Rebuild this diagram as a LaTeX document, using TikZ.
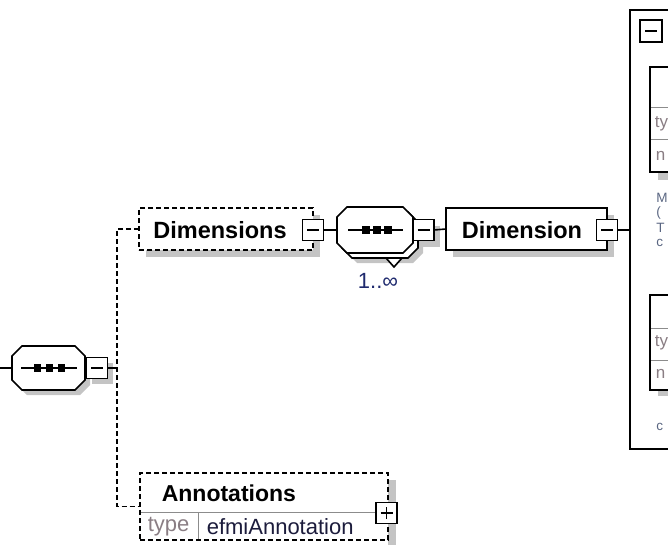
\documentclass[tikz,border=0pt]{standalone}
\usepackage{fontspec}
\setmainfont{Liberation Sans}
\definecolor{shad}{HTML}{C4C4C4}
\definecolor{lbl}{HTML}{8A7E84}
\definecolor{val}{HTML}{1C1C3C}
\definecolor{occ}{HTML}{1F2A6E}
\definecolor{doc}{HTML}{5A6682}
\definecolor{divc}{HTML}{8C8C8C}
\newcommand\octo[1]{([xshift=10pt]#1.north west) -- ([xshift=-10pt]#1.north east) -- ([yshift=-10pt]#1.north east) -- ([yshift=10pt]#1.south east) -- ([xshift=-10pt]#1.south east) -- ([xshift=10pt]#1.south west) -- ([yshift=10pt]#1.south west) -- ([yshift=-10pt]#1.north west) -- cycle}
\begin{document}
\begin{tikzpicture}[x=1pt,y=-1pt,line width=1.6pt,
  hold/.style={inner sep=0pt,outer sep=0pt},
  pmbox/.style={draw,fill=white,minimum size=21pt,inner sep=0pt,outer sep=0pt},
  shadowbox/.style={fill=shad,draw=none,inner sep=0pt,outer sep=0pt},
  elembox/.style={draw,fill=white,inner sep=0pt,outer sep=0pt,font=\fontsize{23}{27}\selectfont\bfseries},
  opt/.style={dash pattern=on 5pt off 3pt},
  txt/.style={inner sep=0pt,anchor=west},
  smallrow/.style={divc,line width=1pt},
  doctext/.style={txt,font=\fontsize{13.5}{14}\selectfont,text=doc},
  rowtext/.style={txt,font=\fontsize{17}{19}\selectfont,text=lbl},
]
\useasboundingbox (0,0) rectangle (668,545);
\clip (0,0) rectangle (668,545);

% ---------- left sequence compositor ----------
\node[hold,minimum width=73pt,minimum height=44pt] (seq1s) at (53.5,373) {};
\node[hold,minimum width=73pt,minimum height=44pt] (seq1) at (48.5,368) {};
\node[shadowbox,minimum size=21pt] (seq1pms) at (102,373) {};
\fill[shad] \octo{seq1s};
\draw[fill=white] \octo{seq1};
\node[pmbox] (seq1pm) at (97,368) {};
\draw ([xshift=-6pt]seq1pm.center) -- ([xshift=6pt]seq1pm.center);
\draw ([xshift=9pt]seq1.west) -- ([xshift=-8pt]seq1.east);
\foreach \d in {-11,1,13}{\fill ([xshift=\d pt]seq1.center) ++(-3.75,-3.75) rectangle ++(7.5,7.5);}
\coordinate (root) at (0,368);
\coordinate (spine) at (117,368);
\draw (root) -- (seq1.west);
\draw (seq1pm.east) -- (spine);

% ---------- Dimensions (optional) ----------
\node[shadowbox,minimum width=174pt,minimum height=42pt] (dimss) at (233,236) {};
\node[elembox,opt,minimum width=174pt,minimum height=42pt] (dims) at (226,229) {};
\node[inner sep=0pt,font=\fontsize{23.5}{27}\selectfont\bfseries] at (220,230) {Dimensions};
\node[pmbox] (dimspm) at (313,230) {};
\draw ([xshift=-6pt]dimspm.center) -- ([xshift=6pt]dimspm.center);

% ---------- Annotations (optional) ----------
\fill[shad] (388,480) rectangle (396,545);
\node[elembox,opt,minimum width=248pt,minimum height=67pt] (annot) at (264,506.5) {};
\draw[smallrow] (141,512) -- (387,512);
\draw[smallrow] (198,513) -- (198,539);
\node[txt,font=\fontsize{23}{27}\selectfont\bfseries] at (161,493) {Annotations};
\node[txt,font=\fontsize{22}{26}\selectfont,text=lbl] at (147,527) {type};
\node[txt,font=\fontsize{22}{26}\selectfont,text=val] at (206,527) {efmiAnnotation};
\node[pmbox] (annotpm) at (386.5,513) {};
\draw ([xshift=-6pt]annotpm.center) -- ([xshift=6pt]annotpm.center);
\draw ([yshift=-6pt]annotpm.center) -- ([yshift=6pt]annotpm.center);

% spine connectors
\draw[opt] (dims.west) -| (spine) |- (annot.west);

% ---------- repeated sequence compositor ----------
\node[hold,minimum width=76pt,minimum height=46pt] (seq2s) at (385,240) {};
\node[hold,minimum width=76pt,minimum height=46pt] (seq2b) at (380,235) {};
\node[hold,minimum width=76pt,minimum height=46pt] (seq2) at (375,230) {};
\node[shadowbox,minimum size=21pt] (seq2pms) at (429,236) {};
\fill[shad] \octo{seq2s};
\draw[fill=white] \octo{seq2b};
\draw[fill=white] (386,258) -- (402,258) -- (394,267) -- cycle;
\draw[fill=white] \octo{seq2};
\node[pmbox] (seq2pm) at (423.5,230) {};
\draw ([xshift=-6pt]seq2pm.center) -- ([xshift=6pt]seq2pm.center);
\draw ([xshift=-27pt]seq2.center) -- ([xshift=28pt]seq2.center);
\foreach \d in {-9,2,13}{\fill ([xshift=\d pt]seq2.center) ++(-3.75,-3.75) rectangle ++(7.5,7.5);}
\node[inner sep=0pt,font=\fontsize{22}{26}\selectfont,text=occ] (occ2) at (378,281) {1..∞};
\draw (dimspm.east) -- (seq2.west);

% ---------- Dimension ----------
\node[shadowbox,minimum width=161pt,minimum height=42pt] (dims2) at (533.5,236) {};
\node[elembox,minimum width=161pt,minimum height=42pt] (dim) at (526.5,229) {};
\node[inner sep=0pt,font=\fontsize{23.5}{27}\selectfont\bfseries] at (522,230) {Dimension};
\node[pmbox] (dimpm) at (607,230) {};
\draw ([xshift=-6pt]dimpm.center) -- ([xshift=6pt]dimpm.center);
\draw (seq2pm.east) -- (dim.west);

% ---------- complex type box (clipped) ----------
\node[draw,fill=white,minimum width=100pt,minimum height=439pt,anchor=north west,inner sep=0pt,outer sep=0pt] (big) at (630,10) {};
\draw (dimpm.east) -- (dimpm.east -| big.west);
\node[pmbox,minimum size=22pt] (bigpm) at (651,31) {};
\draw ([xshift=-6pt]bigpm.center) -- ([xshift=6pt]bigpm.center);

% inner box 1
\fill[shad] (658,172) rectangle (668,180);
\node[draw,fill=white,minimum width=60pt,minimum height=105pt,anchor=north west,inner sep=0pt,outer sep=0pt] (att1) at (650,67) {};
\draw[smallrow] (651,108) -- (668,108);
\draw[smallrow] (651,140) -- (668,140);
\node[rowtext] at (654,124) {ty};
\node[rowtext] at (655,156) {n};

% documentation 1
\node[doctext] at (655.5,198) {M};
\node[doctext] at (655.5,213) {(};
\node[doctext] at (655.5,228) {T};
\node[doctext] at (655.5,243) {c};

% inner box 2
\fill[shad] (658,390) rectangle (668,396);
\node[draw,fill=white,minimum width=60pt,minimum height=95pt,anchor=north west,inner sep=0pt,outer sep=0pt] (att2) at (650,295) {};
\draw[smallrow] (651,328) -- (668,328);
\draw[smallrow] (651,360) -- (668,360);
\node[rowtext] at (654,343) {ty};
\node[rowtext] at (655,374) {n};

% documentation 2
\node[doctext] at (655.5,427) {c};
\end{tikzpicture}
\end{document}
